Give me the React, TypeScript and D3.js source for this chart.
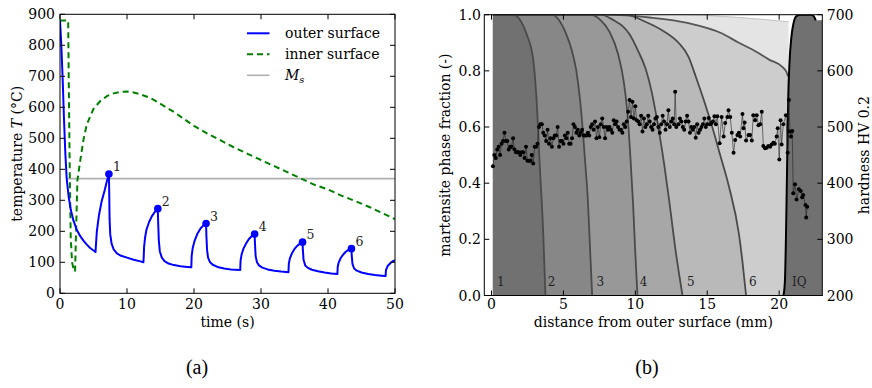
import React from 'react';
import * as d3 from 'd3';

type P = [number, number];

// ---------- (a) temperature history ----------
const outerSurface: P[] = [
  [0, 880], [0.2, 800], [0.4, 690], [0.6, 560], [0.8, 450], [1.0, 370], [1.3, 310], [1.6, 270], [2.0, 235],
  [2.5, 205], [3, 185], [3.5, 170], [4, 157], [4.5, 146], [5, 138], [5.3, 133],
  [5.35, 150], [5.5, 200], [5.8, 250], [6.2, 295], [6.7, 335], [7.0, 362], [7.3, 385],
  [7.35, 320], [7.4, 240], [7.5, 190], [7.7, 160], [8.0, 142], [8.5, 129], [9.0, 122], [10, 115], [11, 108], [12, 103], [12.45, 100],
  [12.5, 120], [12.55, 150], [12.7, 180], [12.9, 205], [13.3, 230], [13.7, 248], [14.2, 264], [14.6, 273],
  [14.65, 230], [14.75, 170], [14.9, 135], [15.2, 115], [15.6, 104], [16.2, 96], [17, 91], [18, 87], [19, 85], [19.6, 84],
  [19.65, 120], [19.8, 145], [20.1, 170], [20.5, 192], [21.0, 210], [21.4, 219], [21.8, 225],
  [21.85, 185], [21.95, 140], [22.1, 115], [22.4, 100], [22.8, 92], [23.5, 85], [24.5, 80], [25.5, 77], [26.9, 75],
  [26.95, 105], [27.1, 125], [27.4, 145], [27.8, 162], [28.2, 175], [28.6, 184], [29.05, 191],
  [29.1, 160], [29.2, 120], [29.4, 100], [29.7, 90], [30.2, 83], [31, 77], [32, 73], [33, 70], [34.1, 68],
  [34.15, 95], [34.3, 112], [34.6, 128], [35, 143], [35.4, 153], [35.8, 160], [36.2, 165],
  [36.25, 140], [36.35, 108], [36.6, 90], [37, 82], [37.6, 76], [38.5, 71], [39.5, 67], [40.5, 64], [41.4, 62],
  [41.45, 85], [41.6, 100], [41.9, 114], [42.3, 126], [42.7, 135], [43.1, 141], [43.5, 144],
  [43.55, 120], [43.65, 95], [43.9, 80], [44.3, 73], [45, 67], [46, 62], [47, 59], [48, 57], [48.6, 56],
  [48.65, 75], [48.9, 88], [49.3, 97], [49.7, 104], [50, 107],
];
const innerSurface: P[] = [
  [0, 880], [1.22, 880], [1.3, 700], [1.45, 400], [1.6, 180], [1.8, 100], [2.05, 76], [2.25, 70], [2.4, 200],
  [2.6, 365], [3.0, 425], [3.5, 495], [4, 545], [5, 595], [6, 620], [7, 636], [8, 645], [9, 650], [10, 651],
  [11, 648], [12, 642], [13, 634], [14, 624], [15, 611], [16, 598], [17, 585], [18, 570], [20, 540], [22, 515],
  [24, 493], [26, 470], [28, 450], [30, 430], [32, 410], [34, 390], [36, 370], [38, 350], [40, 335], [42, 315],
  [44, 298], [46, 280], [48, 260], [50, 239],
];
const msLine: P[] = [[1.2, 370], [50, 370]];
const peaks: P[] = [[7.3, 385], [14.6, 273], [21.8, 225], [29.05, 191], [36.2, 165], [43.5, 144]];
const peakLabels = ['1', '2', '3', '4', '5', '6'];
const timeTicks = [0, 10, 20, 30, 40, 50];
const tempTicks = [0, 100, 200, 300, 400, 500, 600, 700, 800, 900];
const legendLabels = ['outer surface', 'inner surface'];

// ---------- (b) martensite fraction and hardness ----------
const curve1: P[] = [[0.1, 1], [1.5, 1], [2.0, 0.98], [2.45, 0.93], [2.9, 0.84], [3.13, 0.7], [3.36, 0.46], [3.6, 0.22], [3.75, 0]];
const curve2: P[] = [[0.1, 1], [4.2, 1], [4.7, 0.98], [5.2, 0.93], [5.6, 0.87], [5.9, 0.8], [6.15, 0.7], [6.36, 0.58], [6.55, 0.45], [6.7, 0.34], [6.85, 0.17], [7.0, 0]];
const curve3: P[] = [[0.1, 1], [6.8, 1], [7.6, 0.98], [8.2, 0.94], [8.8, 0.86], [9.2, 0.76], [9.45, 0.65], [9.65, 0.5], [9.85, 0.32], [10.0, 0.15], [10.15, 0]];
const curve4: P[] = [[0.1, 1], [7.6, 1], [8.5, 0.98], [9.1, 0.96], [9.6, 0.93], [10.2, 0.87], [10.7, 0.81], [11.2, 0.71], [11.66, 0.58], [12.0, 0.47], [12.35, 0.34], [12.8, 0.16], [13.28, 0]];
const curve5: P[] = [[0.1, 1], [9.3, 1], [10.7, 0.975], [12.0, 0.94], [13.0, 0.9], [13.7, 0.85], [14.2, 0.78], [14.8, 0.69], [15.35, 0.6], [15.9, 0.5], [16.5, 0.39], [17.2, 0.22], [17.45, 0.12], [17.7, 0]];
const curve6: P[] = [[0.1, 1], [8, 1], [11, 0.99], [13.7, 0.97], [16.0, 0.934], [17.2, 0.9], [18.35, 0.87], [19.3, 0.84], [20.2, 0.815], [20.5, 0.797], [20.62, 0.78], [20.66, 0]];
const wedgeCurve: P[] = [[0.1, 1], [12.5, 1], [20.66, 0.975], [20.68, 0]];
const iqCurve: P[] = [[20.3, 0], [20.4, 0.05], [20.47, 0.2], [20.55, 0.45], [20.63, 0.7], [20.72, 0.83], [20.85, 0.92], [21.0, 0.97], [21.2, 0.995], [21.5, 1.0], [22.2, 1.0], [22.4, 0.995], [22.55, 0.98]];
const iqFillEnd: P[] = [[23, 0.98], [23, 0]];
const regionLabels = ['1', '2', '3', '4', '5', '6', 'IQ'];
const regionLabelX = [0.64, 4.17, 7.56, 10.58, 13.85, 18.17, 21.4];

const hardness: P[] = [
  [0.1, 430], [0.2, 450], [0.3, 445], [0.4, 460], [0.5, 465], [0.6, 450], [0.7, 470], [0.8, 475], [0.9, 490], [1.0, 475],
  [1.1, 475], [1.2, 460], [1.3, 465], [1.4, 465], [1.5, 480], [1.6, 460], [1.7, 455], [1.8, 455], [1.9, 455], [2.0, 450],
  [2.1, 455], [2.2, 455], [2.3, 445], [2.4, 465], [2.5, 440], [2.6, 440], [2.7, 440], [2.8, 450], [2.9, 435], [3.0, 465],
  [3.1, 465], [3.2, 470], [3.3, 500], [3.4, 505], [3.5, 505], [3.6, 490], [3.7, 485], [3.8, 475], [3.9, 495], [4.0, 470],
  [4.1, 480], [4.2, 465], [4.3, 480], [4.4, 485], [4.5, 485], [4.6, 500], [4.7, 465], [4.8, 475], [4.9, 475], [5.0, 470],
  [5.1, 485], [5.2, 480], [5.3, 490], [5.4, 470], [5.5, 470], [5.6, 480], [5.7, 505], [5.8, 500], [5.9, 490], [6.0, 495],
  [6.1, 485], [6.2, 490], [6.3, 495], [6.4, 485], [6.5, 485], [6.6, 485], [6.7, 490], [6.8, 485], [6.9, 500], [7.0, 505],
  [7.1, 495], [7.2, 510], [7.3, 480], [7.4, 500], [7.5, 482], [7.6, 505], [7.7, 515], [7.8, 500], [7.9, 480], [8.0, 500],
  [8.1, 495], [8.2, 500], [8.3, 495], [8.4, 490], [8.5, 512], [8.6, 505], [8.7, 510], [8.8, 500], [8.9, 495], [9.0, 495],
  [9.1, 490], [9.2, 505], [9.3, 500], [9.4, 510], [9.5, 527], [9.6, 548], [9.7, 518], [9.8, 545], [9.9, 515], [10.0, 537],
  [10.1, 512], [10.2, 510], [10.3, 505], [10.4, 520], [10.5, 492], [10.6, 515], [10.7, 500], [10.8, 505], [10.9, 520], [11.0, 510],
  [11.1, 500], [11.2, 495], [11.3, 505], [11.4, 515], [11.5, 518], [11.6, 500], [11.7, 490], [11.8, 505], [11.9, 520], [12.0, 510],
  [12.1, 495], [12.2, 505], [12.3, 530], [12.4, 500], [12.5, 510], [12.6, 515], [12.7, 505], [12.77, 563], [12.85, 500], [13.0, 505],
  [13.1, 515], [13.2, 510], [13.3, 500], [13.4, 495], [13.5, 510], [13.6, 520], [13.7, 510], [13.8, 490], [13.9, 500], [14.0, 495],
  [14.1, 500], [14.2, 481], [14.3, 505], [14.4, 490], [14.5, 495], [14.6, 500], [14.7, 505], [14.8, 515], [14.9, 500], [15.0, 505],
  [15.1, 516], [15.2, 505], [15.3, 507], [15.4, 510], [15.5, 519], [15.6, 505], [15.7, 519], [15.86, 471], [16.0, 518], [16.14, 483],
  [16.25, 507], [16.4, 518], [16.48, 530], [16.6, 518], [16.71, 490], [16.83, 454], [16.94, 477], [17.1, 486], [17.2, 490], [17.29, 483],
  [17.45, 523], [17.52, 498], [17.6, 508], [17.7, 476], [17.87, 486], [17.98, 486], [18.1, 476], [18.2, 521], [18.33, 512], [18.44, 521],
  [18.56, 503], [18.68, 505], [18.79, 527], [18.9, 466], [19.02, 462], [19.13, 463], [19.25, 466], [19.37, 465], [19.48, 469], [19.6, 472],
  [19.7, 470], [19.83, 483], [19.9, 498], [20.01, 442], [20.1, 512], [20.17, 469], [20.29, 505], [20.47, 521], [20.59, 454], [20.68, 548],
  [20.75, 492], [20.82, 483], [20.91, 493], [20.98, 382], [21.1, 398], [21.21, 371], [21.37, 389], [21.5, 386], [21.6, 375], [21.67, 379],
  [21.83, 361], [21.88, 339], [21.95, 358],
];
const distTicks = [0, 5, 10, 15, 20];
const fracTicks = [0, 0.2, 0.4, 0.6, 0.8, 1.0];
const hvTicks = [200, 300, 400, 500, 600, 700];

const FONT = 'DejaVu Serif';

export default function App() {
  // panel (a)
  const xA = d3.scaleLinear().domain([0, 50]).range([60, 395]);
  const yA = d3.scaleLinear().domain([0, 900]).range([293.3, 14.3]);
  const lineA = d3.line<P>().x(d => xA(d[0])).y(d => yA(d[1]));

  // panel (b)
  const xB = d3.scaleLinear().domain([-0.5, 23]).range([484.3, 822.3]);
  const yB = d3.scaleLinear().domain([0, 1]).range([295.5, 14.7]);
  const hB = d3.scaleLinear().domain([200, 700]).range([295.5, 14.7]);
  const lineB = d3.line<P>().x(d => xB(d[0])).y(d => yB(d[1])).curve(d3.curveMonotoneX);
  const areaB = d3.area<P>().x(d => xB(d[0])).y0(yB(0)).y1(d => yB(d[1])).curve(d3.curveMonotoneX);
  const areaLin = d3.area<P>().x(d => xB(d[0])).y0(yB(0)).y1(d => yB(d[1]));
  const lineH = d3.line<P>().x(d => xB(d[0])).y(d => hB(d[1]));

  const fills: { c: P[]; col: string }[] = [
    { c: wedgeCurve, col: '#e4e4e4' },
    { c: curve6, col: '#cdcdcd' },
    { c: curve5, col: '#b9b9b9' },
    { c: curve4, col: '#a7a7a7' },
    { c: curve3, col: '#989898' },
    { c: curve2, col: '#878787' },
    { c: curve1, col: '#717171' },
  ];
  const boundaryCurves = [curve1, curve2, curve3, curve4, curve5];
  const curve6Line = curve6.slice(0, curve6.length - 1);
  const wedgeLine = wedgeCurve.slice(0, wedgeCurve.length - 1);

  const tl = 5;
  const xA0 = xA.range()[0], xA1 = xA.range()[1], yA0 = yA.range()[0], yA1 = yA.range()[1];
  const xB0 = xB.range()[0], xB1 = xB.range()[1], yB0 = yB.range()[0], yB1 = yB.range()[1];

  return (
    <svg width={872} height={388} style={{ position: 'absolute', left: 0, top: 0, background: '#fff' }} fontFamily={FONT}>
      <defs>
        <clipPath id="clipA"><rect x={xA0} y={yA1} width={xA1 - xA0} height={yA0 - yA1} /></clipPath>
        <clipPath id="clipB"><rect x={xB0} y={yB1} width={xB1 - xB0} height={yB0 - yB1} /></clipPath>
      </defs>

      {/* ===== Panel (a) ===== */}
      <g clipPath="url(#clipA)">
        <path d={lineA(msLine) || ''} stroke="#b0b0b0" strokeWidth={1.6} fill="none" />
        <path d={lineA(innerSurface) || ''} stroke="#008000" strokeWidth={2} strokeDasharray="6,4" fill="none" />
        <path d={lineA(outerSurface) || ''} stroke="#0000ff" strokeWidth={2} fill="none" strokeLinejoin="round" />
        {peaks.map((p, i) => (
          <circle key={i} cx={xA(p[0])} cy={yA(p[1])} r={3.8} fill="#0000ff" />
        ))}
      </g>
      {peaks.map((p, i) => (
        <text key={i} x={xA(p[0]) + 4} y={yA(p[1]) - 3} fontSize={12.5} fill="#222">{peakLabels[i]}</text>
      ))}
      {/* axes (a) */}
      <rect x={xA0} y={yA1} width={xA1 - xA0} height={yA0 - yA1} fill="none" stroke="#000" strokeWidth={1} />
      {timeTicks.map(t => (
        <g key={t}>
          <line x1={xA(t)} x2={xA(t)} y1={yA0} y2={yA0 - tl} stroke="#000" />
          <line x1={xA(t)} x2={xA(t)} y1={yA1} y2={yA1 + tl} stroke="#000" />
          <text x={xA(t)} y={308.5} fontSize={14} textAnchor="middle">{t}</text>
        </g>
      ))}
      {tempTicks.map(t => (
        <g key={t}>
          <line x1={xA0} x2={xA0 + tl} y1={yA(t)} y2={yA(t)} stroke="#000" />
          <line x1={xA1} x2={xA1 - tl} y1={yA(t)} y2={yA(t)} stroke="#000" />
          <text x={xA0 - 5} y={yA(t)} dy="0.36em" fontSize={14} textAnchor="end">{t}</text>
        </g>
      ))}
      <text x={(xA0 + xA1) / 2} y={327} fontSize={14} textAnchor="middle">time (s)</text>
      <text transform={`translate(21.5,${(yA0 + yA1) / 2}) rotate(-90)`} fontSize={14} textAnchor="middle">
        temperature <tspan fontStyle="italic">T</tspan> (°C)
      </text>
      {/* legend */}
      <line x1={247} x2={269.5} y1={33.3} y2={33.3} stroke="#0000ff" strokeWidth={2} />
      <line x1={247} x2={269.5} y1={54.3} y2={54.3} stroke="#008000" strokeWidth={2} strokeDasharray="6,4" />
      <line x1={247} x2={269.5} y1={75.3} y2={75.3} stroke="#b0b0b0" strokeWidth={1.6} />
      <text x={285} y={38.3} fontSize={14}>{legendLabels[0]}</text>
      <text x={285} y={59.3} fontSize={14}>{legendLabels[1]}</text>
      <text x={285} y={80.3} fontSize={14} fontStyle="italic">M<tspan fontSize={10} dy={3}>s</tspan></text>

      {/* ===== Panel (b) ===== */}
      <g clipPath="url(#clipB)">
        {fills.map((f, i) => (
          <path key={i} d={areaB(f.c) || ''} fill={f.col} stroke="none" />
        ))}
        <path d={areaLin([...iqCurve, ...iqFillEnd]) || ''} fill="#717171" />
        <path d={lineB(wedgeLine) || ''} fill="none" stroke="#c4c4c4" strokeWidth={1} />
        <path d={lineB(curve6Line) || ''} fill="none" stroke="#555" strokeWidth={1.8} />
        {boundaryCurves.map((c, i) => (
          <path key={i} d={lineB(c) || ''} fill="none" stroke="#4a4a4a" strokeWidth={1.8} />
        ))}
        <path d={lineB(iqCurve) || ''} fill="none" stroke="#000" strokeWidth={2} />
        <path d={lineH(hardness) || ''} fill="none" stroke="#222" strokeWidth={0.6} />
        {hardness.map((p, i) => (
          <circle key={i} cx={xB(p[0])} cy={hB(p[1])} r={2} fill="#000" />
        ))}
      </g>
      {regionLabels.map((l, i) => (
        <text key={l} x={xB(regionLabelX[i])} y={286} fontSize={12} textAnchor="middle" fill="#222">{l}</text>
      ))}
      <rect x={xB0} y={yB1} width={xB1 - xB0} height={yB0 - yB1} fill="none" stroke="#000" strokeWidth={1} />
      {distTicks.map(t => (
        <g key={t}>
          <line x1={xB(t)} x2={xB(t)} y1={yB0} y2={yB0 - tl} stroke="#000" />
          <line x1={xB(t)} x2={xB(t)} y1={yB1} y2={yB1 + tl} stroke="#000" />
          <text x={xB(t)} y={308.5} fontSize={14} textAnchor="middle">{t}</text>
        </g>
      ))}
      {fracTicks.map(t => (
        <g key={t}>
          <line x1={xB0} x2={xB0 + tl} y1={yB(t)} y2={yB(t)} stroke="#000" />
          <text x={xB0 - 3.5} y={yB(t)} dy="0.36em" fontSize={14} textAnchor="end">{d3.format('.1f')(t)}</text>
        </g>
      ))}
      {hvTicks.map(t => (
        <g key={t}>
          <line x1={xB1} x2={xB1 - tl} y1={hB(t)} y2={hB(t)} stroke="#000" />
          <text x={xB1 + 4.5} y={hB(t)} dy="0.36em" fontSize={14} textAnchor="start">{t}</text>
        </g>
      ))}
      <text x={(xB0 + xB1) / 2} y={327} fontSize={14} textAnchor="middle">distance from outer surface (mm)</text>
      <text transform={`translate(450,${(yB0 + yB1) / 2}) rotate(-90)`} fontSize={14} textAnchor="middle">martensite phase fraction (-)</text>
      <text transform={`translate(869,${(yB0 + yB1) / 2}) rotate(-90)`} fontSize={14} textAnchor="middle">hardness HV 0.2</text>

      {/* panel captions */}
      <text x={197} y={374} fontSize={20} textAnchor="middle" fontFamily="Liberation Serif">(a)</text>
      <text x={647} y={374} fontSize={20} textAnchor="middle" fontFamily="Liberation Serif">(b)</text>
    </svg>
  );
}
